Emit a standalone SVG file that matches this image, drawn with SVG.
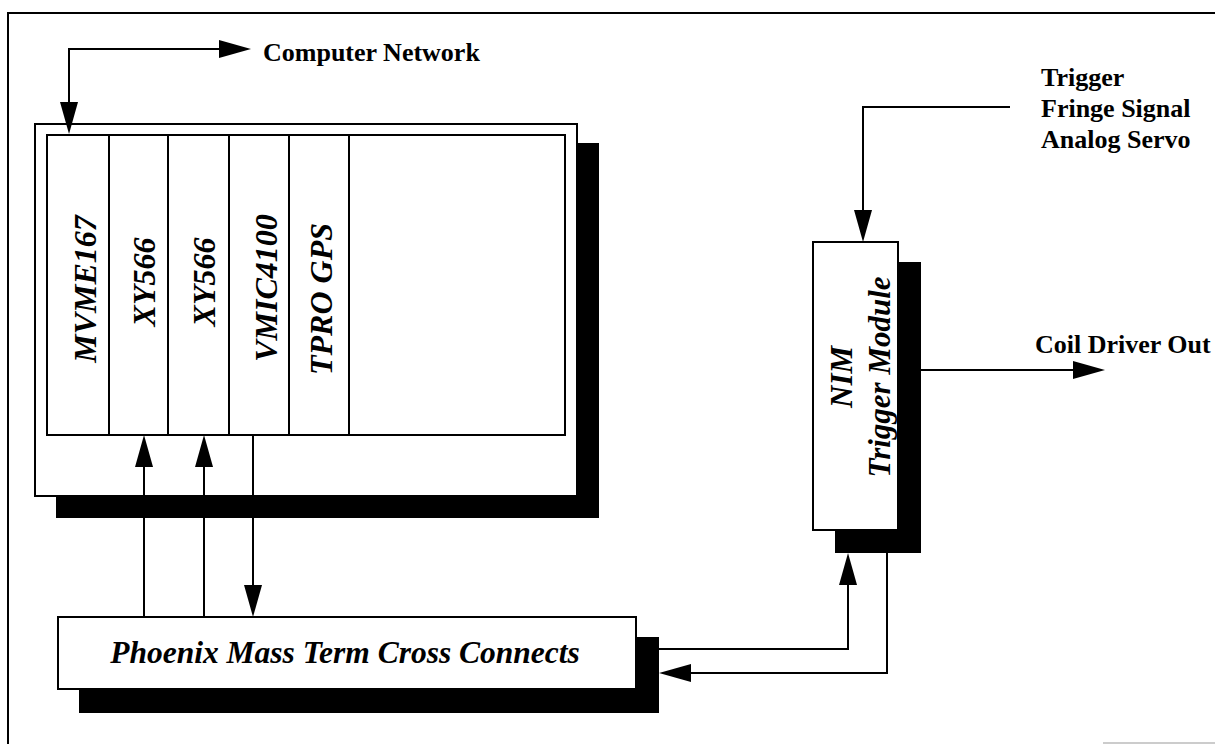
<svg xmlns="http://www.w3.org/2000/svg" width="1215" height="744" viewBox="0 0 1215 744">
<style>
.box{fill:#fff;stroke:#000;stroke-width:2}
.shadow{fill:#000}
.div{stroke:#000;stroke-width:2}
.wire{fill:none;stroke:#000;stroke-width:2}
.lbl{font-family:"Liberation Serif","Times New Roman",serif;font-weight:bold;font-size:26px;fill:#000}
.slot{font-family:"Liberation Serif","Times New Roman",serif;font-weight:bold;font-style:italic;font-size:32px;fill:#000}
</style>
<defs>
<marker id="arr" viewBox="0 0 32 18" refX="0" refY="9" markerWidth="32" markerHeight="18" markerUnits="userSpaceOnUse" orient="auto-start-reverse">
<path d="M0,0 L32,9 L0,18 z" fill="#000"/>
</marker>
</defs>
<rect width="1215" height="744" fill="#fff"/>
<g id="frame">
<path d="M8 744 L8 13 L1215 13" fill="none" stroke="#000" stroke-width="2"/>
<line x1="1103" y1="743" x2="1215" y2="743" stroke="#999" stroke-width="1"/>
</g>
<g id="vme-rack">
<rect class="shadow" x="56" y="143" width="543" height="375"/>
<rect class="box" x="35" y="124" width="542" height="372"/>
<rect class="box" x="47" y="135" width="518" height="300"/>
<line class="div" x1="109" y1="135" x2="109" y2="435"/>
<line class="div" x1="168" y1="135" x2="168" y2="435"/>
<line class="div" x1="229" y1="135" x2="229" y2="435"/>
<line class="div" x1="289" y1="135" x2="289" y2="435"/>
<line class="div" x1="349" y1="135" x2="349" y2="435"/>
<text class="slot" text-anchor="middle" transform="translate(96,289) rotate(-90)">MVME167</text>
<text class="slot" text-anchor="middle" transform="translate(155,282) rotate(-90)">XY566</text>
<text class="slot" text-anchor="middle" transform="translate(215,282) rotate(-90)">XY566</text>
<text class="slot" text-anchor="middle" transform="translate(277,288) rotate(-90)">VMIC4100</text>
<text class="slot" text-anchor="middle" transform="translate(332,299) rotate(-90)">TPRO GPS</text>
</g>
<g id="phoenix">
<rect class="shadow" x="79" y="637" width="580" height="76"/>
<rect class="box" x="58" y="617" width="578" height="72"/>
<text class="slot" style="font-size:31.5px" x="345" y="663" text-anchor="middle">Phoenix Mass Term Cross Connects</text>
</g>
<g id="nim">
<rect class="shadow" x="835" y="262" width="86" height="291"/>
<rect class="box" x="813" y="242" width="85" height="288"/>
<text class="slot" style="font-size:31px" text-anchor="middle" transform="translate(852,377) rotate(-90)">NIM</text>
<text class="slot" style="font-size:31px" text-anchor="middle" transform="translate(890,377) rotate(-90)">Trigger Module</text>
</g>
<g id="labels">
<text class="lbl" x="263" y="61">Computer Network</text>
<text class="lbl" x="1041" y="86">Trigger</text>
<text class="lbl" x="1041" y="117">Fringe Signal</text>
<text class="lbl" x="1041" y="148">Analog Servo</text>
<text class="lbl" x="1035" y="353">Coil Driver Out</text>
</g>
<g id="connectors">
<path class="wire" d="M69 102 L69 49 L219 49" marker-start="url(#arr)" marker-end="url(#arr)"/>
<path class="wire" d="M144 617 L144 467" marker-end="url(#arr)"/>
<path class="wire" d="M204 617 L204 467" marker-end="url(#arr)"/>
<path class="wire" d="M253 435 L253 585" marker-end="url(#arr)"/>
<path class="wire" d="M659 649 L848 649 L848 585" marker-end="url(#arr)"/>
<path class="wire" d="M887 553 L887 673 L691 673" marker-end="url(#arr)"/>
<path class="wire" d="M1010 107 L863 107 L863 210" marker-end="url(#arr)"/>
<path class="wire" d="M921 370 L1073 370" marker-end="url(#arr)"/>
</g>
</svg>
